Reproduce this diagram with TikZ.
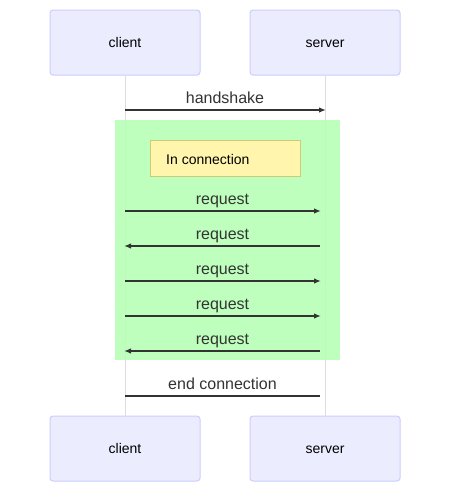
\documentclass[tikz,border=0pt]{standalone}
\usepackage{fontspec}
\setmainfont{Liberation Sans}
\usetikzlibrary{arrows.meta}
\definecolor{actorfill}{HTML}{ECECFF}
\definecolor{actorline}{HTML}{CCCCFF}
\definecolor{lifeline}{HTML}{DDDDDD}
\definecolor{msgline}{HTML}{333333}
\definecolor{loopfill}{HTML}{B3FFB3}
\definecolor{notefill}{HTML}{FFF5AD}
\definecolor{noteline}{HTML}{CCCC77}
\begin{document}
\begin{tikzpicture}[x=1pt,y=-1pt,
  actor/.style={draw=actorline,fill=actorfill,rounded corners=3pt,line width=1pt,minimum width=150pt,minimum height=65pt,inner sep=0pt,text height=11pt,text depth=2pt,font=\fontsize{14}{16}\selectfont},
  msg/.style={draw=msgline,line width=1.6pt},
  msgarrow/.style={msg,-{Latex[length=7pt,width=5.5pt]}},
  lbl/.style={font=\fontsize{16}{18}\selectfont,text=msgline,inner sep=0pt,anchor=base},
  life/.style={draw=lifeline,line width=1pt}]
\useasboundingbox (0,0) rectangle (450,482);
\fill[white] (0,0) rectangle (450,482);
\node[actor] (ct) at (125,42.5) {client};
\node[actor] (st) at (325,42.5) {server};
\node[actor] (cb) at (125,448.5) {client};
\node[actor] (sb) at (325,448.5) {server};
\draw[life] (ct.south) -- (cb.north);
\draw[life] (st.south) -- (sb.north);
\fill[loopfill,opacity=0.85] (115,120) rectangle (340,360);
\node[draw=noteline,fill=notefill,line width=1pt,minimum width=150pt,minimum height=36pt,inner sep=0pt] (note) at (225,158) {};
\node[anchor=base west,inner sep=0pt,font=\fontsize{14}{16}\selectfont] (notetext) at (166,164) {In connection};
% messages
\coordinate (c1) at (125,110); \coordinate (s1) at (326,110);
\draw[msgarrow] (c1) -- (s1);
\node[lbl] (l1) at (225,103) {handshake};
\coordinate (c2) at (125,211); \coordinate (s2) at (321,211);
\draw[msgarrow] (c2) -- (s2);
\node[lbl] (l2) at (222.5,204) {request};
\coordinate (c3) at (124,246); \coordinate (s3) at (320,246);
\draw[msgarrow] (s3) -- (c3);
\node[lbl] (l3) at (222.5,239) {request};
\coordinate (c4) at (125,281); \coordinate (s4) at (321,281);
\draw[msgarrow] (c4) -- (s4);
\node[lbl] (l4) at (222.5,274) {request};
\coordinate (c5) at (125,316); \coordinate (s5) at (321,316);
\draw[msgarrow] (c5) -- (s5);
\node[lbl] (l5) at (222.5,309) {request};
\coordinate (c6) at (124,351); \coordinate (s6) at (320,351);
\draw[msgarrow] (s6) -- (c6);
\node[lbl] (l6) at (222.5,344) {request};
\coordinate (c7) at (125,396); \coordinate (s7) at (320,396);
\draw[msg] (c7) -- (s7);
\node[lbl] (l7) at (222.5,389) {end connection};
\end{tikzpicture}
\end{document}
